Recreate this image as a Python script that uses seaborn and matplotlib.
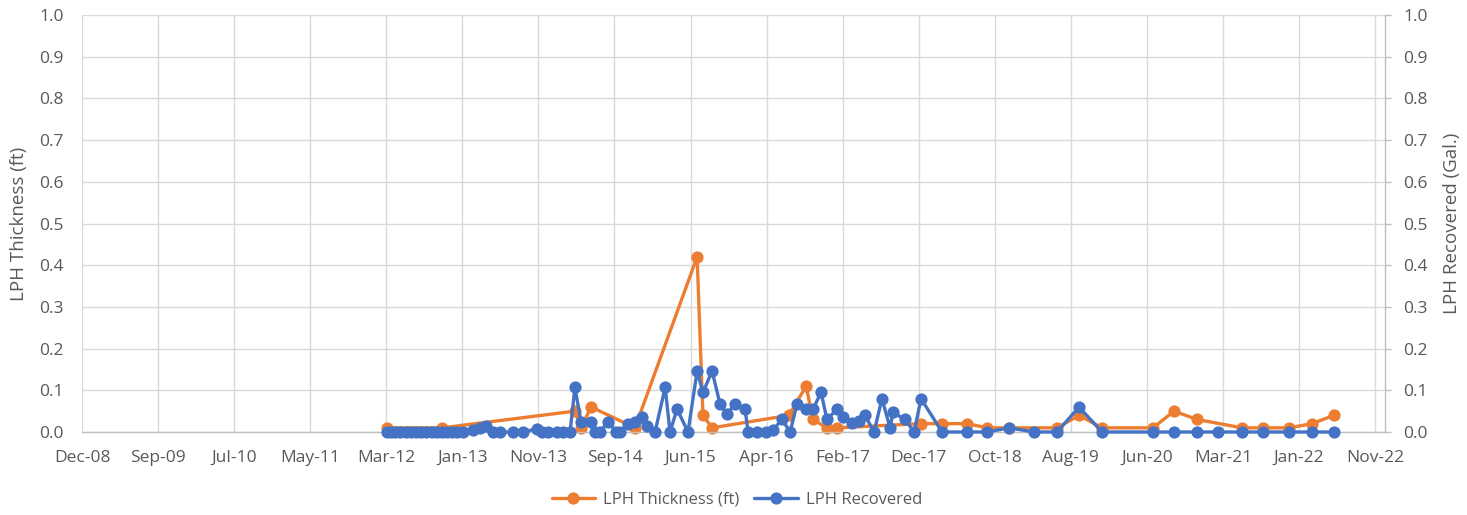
import matplotlib
matplotlib.use("Agg")
import matplotlib.pyplot as plt
from matplotlib.lines import Line2D
import pandas as pd
import seaborn as sns

# LPH thickness measurements (ft)
thickness_dates = [
    "2012-03-18", "2012-10-21", "2014-03-29", "2014-04-22", "2014-06-01",
    "2014-11-21", "2015-07-24", "2015-08-16", "2015-09-21", "2016-07-20",
    "2016-09-26", "2016-10-23", "2016-12-17", "2017-01-26", "2017-12-23",
    "2018-03-16", "2018-06-23", "2018-09-10", "2018-12-05", "2019-06-13",
    "2019-09-07", "2019-12-07", "2020-06-25", "2020-09-16", "2020-12-16",
    "2021-06-11", "2021-09-02", "2021-12-14", "2022-03-14", "2022-06-09",
]
thickness_ft = [
    0.01, 0.01, 0.05, 0.01, 0.06,
    0.01, 0.42, 0.04, 0.01, 0.04,
    0.11, 0.03, 0.01, 0.01, 0.02,
    0.02, 0.02, 0.01, 0.01, 0.01,
    0.04, 0.01, 0.01, 0.05, 0.03,
    0.01, 0.01, 0.01, 0.02, 0.04,
]

# LPH recovered volumes (gallons)
recovered_dates = [
    "2012-03-18", "2012-04-02", "2012-04-20", "2012-05-10", "2012-05-30",
    "2012-06-20", "2012-07-10", "2012-07-30", "2012-08-20", "2012-09-10",
    "2012-10-01", "2012-10-21", "2012-11-10", "2012-12-01", "2012-12-20",
    "2013-01-10", "2013-02-20", "2013-03-20", "2013-04-12", "2013-05-10",
    "2013-06-07", "2013-07-28", "2013-09-05", "2013-10-31", "2013-11-19",
    "2013-12-13", "2014-01-17", "2014-02-10", "2014-03-10", "2014-03-29",
    "2014-04-22", "2014-06-01", "2014-06-16", "2014-07-06", "2014-08-07",
    "2014-09-07", "2014-09-23", "2014-10-25", "2014-11-21", "2014-12-19",
    "2015-01-08", "2015-02-08", "2015-03-20", "2015-04-08", "2015-05-06",
    "2015-06-18", "2015-07-24", "2015-08-16", "2015-09-21", "2015-10-22",
    "2015-11-19", "2015-12-21", "2016-01-29", "2016-02-10", "2016-03-16",
    "2016-04-21", "2016-05-18", "2016-06-23", "2016-07-25", "2016-08-21",
    "2016-09-26", "2016-10-23", "2016-11-24", "2016-12-17", "2017-01-26",
    "2017-02-19", "2017-03-26", "2017-04-23", "2017-05-16", "2017-06-21",
    "2017-07-22", "2017-08-23", "2017-09-04", "2017-10-21", "2017-11-26",
    "2017-12-23", "2018-03-16", "2018-06-23", "2018-09-10", "2018-12-05",
    "2019-03-14", "2019-06-13", "2019-09-07", "2019-12-07", "2020-06-25",
    "2020-09-16", "2020-12-16", "2021-03-09", "2021-06-11", "2021-09-02",
    "2021-12-14", "2022-03-14", "2022-06-09",
]
recovered_gal = [
    0.0, 0.0, 0.0, 0.0, 0.0,
    0.0, 0.0, 0.0, 0.0, 0.0,
    0.0, 0.0, 0.0, 0.0, 0.0,
    0.0, 0.005, 0.01, 0.015, 0.0,
    0.0, 0.0, 0.0, 0.008, 0.0,
    0.0, 0.0, 0.0, 0.0, 0.107,
    0.025, 0.025, 0.0, 0.0, 0.025,
    0.0, 0.0, 0.02, 0.025, 0.035,
    0.015, 0.0, 0.107, 0.0, 0.055,
    0.0, 0.146, 0.095, 0.146, 0.068,
    0.043, 0.068, 0.055, 0.0, 0.0,
    0.0, 0.005, 0.03, 0.0, 0.068,
    0.055, 0.055, 0.095, 0.03, 0.055,
    0.035, 0.022, 0.027, 0.04, 0.0,
    0.08, 0.01, 0.047, 0.03, 0.0,
    0.08, 0.0, 0.0, 0.0, 0.01,
    0.0, 0.0, 0.06, 0.0, 0.0,
    0.0, 0.0, 0.0, 0.0, 0.0,
    0.0, 0.0, 0.0,
]

tick_labels = [
    "Dec-08", "Sep-09", "Jul-10", "May-11", "Mar-12", "Jan-13",
    "Nov-13", "Sep-14", "Jun-15", "Apr-16", "Feb-17", "Dec-17",
    "Oct-18", "Aug-19", "Jun-20", "Mar-21", "Jan-22", "Nov-22",
]
y_ticks = [0.0, 0.1, 0.2, 0.3, 0.4, 0.5, 0.6, 0.7, 0.8, 0.9, 1.0]

ORANGE = "#ED7D31"
BLUE = "#4472C4"
GRID = "#D9D9D9"
TEXT = "#595959"

sns.set_theme(style="white")
plt.rcParams["font.family"] = ["Open Sans", "DejaVu Sans"]

thick = pd.DataFrame({"date": pd.to_datetime(thickness_dates), "value": thickness_ft})
recov = pd.DataFrame({"date": pd.to_datetime(recovered_dates), "value": recovered_gal})

fig = plt.figure(figsize=(14.67, 5.15), dpi=100)
ax = fig.add_axes([82 / 1467, 1 - 432 / 515, (1385 - 82) / 1467, (432 - 15) / 515])
ax2 = ax.twinx()

line_kw = dict(marker="o", markersize=8.8, markeredgewidth=0, linewidth=2.4)
sns.lineplot(data=thick, x="date", y="value", ax=ax, color=ORANGE, **line_kw)
sns.lineplot(data=recov, x="date", y="value", ax=ax2, color=BLUE, **line_kw)
for a in (ax, ax2):
    for ln in a.lines:
        ln.set_clip_on(False)

# date axis with a 300-day major step
start = pd.Timestamp("2008-12-01")
tick_dates = pd.date_range(start, periods=len(tick_labels), freq="300D")
x_end = start + pd.Timedelta(days=5139)
ax.set_xlim(start, x_end)
ax.set_xticks(tick_dates)
ax.set_xticklabels(tick_labels)

for a in (ax, ax2):
    a.set_ylim(0, 1.0)
    a.set_yticks(y_ticks)
    a.set_yticklabels([f"{v:.1f}" for v in y_ticks])
    a.set_xlabel("")
    a.set_ylabel("")

ax.grid(True, axis="both", color=GRID, linewidth=1.0)
ax.set_axisbelow(True)
ax2.grid(False)

for s in ("left", "top", "right"):
    ax.spines[s].set_visible(False)
ax.spines["bottom"].set_color("#BFBFBF")
ax.spines["bottom"].set_linewidth(1.0)
for s in ("left", "top", "bottom"):
    ax2.spines[s].set_visible(False)
ax2.spines["right"].set_color("#BFBFBF")
ax2.spines["right"].set_linewidth(1.0)

ax.tick_params(axis="x", length=0, pad=13, labelsize=12.5, labelcolor=TEXT)
ax.tick_params(axis="y", length=0, pad=13, labelsize=12.5, labelcolor=TEXT)
ax2.tick_params(axis="y", length=4, width=1, color="#BFBFBF", pad=9,
                labelsize=12.5, labelcolor=TEXT)

ax.set_ylabel("LPH Thickness (ft)", fontsize=13.5, color=TEXT, labelpad=8)
ax2.set_ylabel("LPH Recovered (Gal.)", fontsize=13.5, color=TEXT, labelpad=11)

handles = [
    Line2D([], [], color=ORANGE, marker="o", markersize=8.8, markeredgewidth=0, linewidth=2.4),
    Line2D([], [], color=BLUE, marker="o", markersize=8.8, markeredgewidth=0, linewidth=2.4),
]
fig.legend(handles, ["LPH Thickness (ft)", "LPH Recovered"], loc="center",
           bbox_to_anchor=(737 / 1467, 1 - 500 / 515), ncol=2, frameon=False,
           fontsize=12, labelcolor=TEXT, handlelength=2.6, columnspacing=0.9,
           handletextpad=0.5)

fig.savefig("out.png", dpi=100)
